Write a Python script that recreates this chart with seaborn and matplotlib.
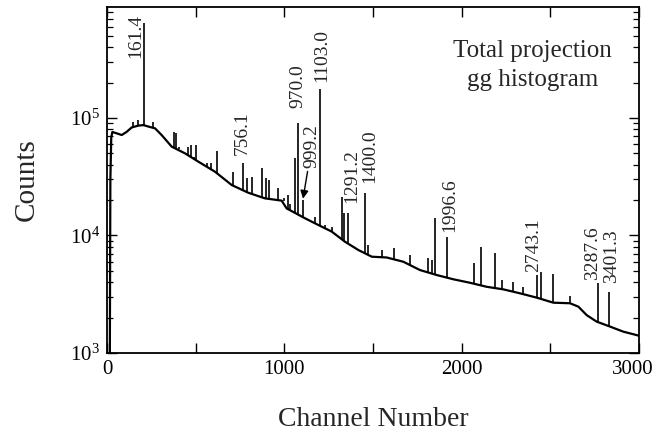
import matplotlib
matplotlib.use("Agg")
import matplotlib.pyplot as plt
import matplotlib.transforms as mtransforms
import seaborn as sns
import pandas as pd
from matplotlib.ticker import FixedLocator, LogLocator, NullFormatter, LogFormatterMathtext

# Continuum of the total projection spectrum (channel, counts)
continuum_channel = [16, 19, 24, 30, 55, 83, 110, 139, 175, 205, 240, 271, 308, 365, 440,
                     515, 609, 703, 797, 891, 985, 1013, 1117, 1191, 1267, 1342, 1417,
                     1493, 1577, 1671, 1765, 1859, 1953, 2047, 2141, 2235, 2329, 2423,
                     2517, 2611, 2658, 2705, 2761, 2836, 2911, 2987, 3000]
continuum_counts = [1000, 30000, 68000, 76000, 74000, 71600, 76000, 83000, 86000, 87000,
                    84000, 81600, 71600, 57000, 50000, 42500, 34900, 26900, 23100, 20700,
                    19800, 17000, 14000, 12300, 10800, 8850, 7530, 6600, 6500, 5980, 5080,
                    4610, 4240, 3960, 3660, 3480, 3220, 2960, 2680, 2650, 2480, 2100, 1850,
                    1680, 1520, 1420, 1400]

# Discrete lines: channel, local background under the line, line height
peak_channel = [148, 177, 210, 261, 378, 389, 406, 458, 474, 492, 502, 562, 586, 619,
                709, 765, 788, 816, 872, 895, 913, 966, 1000, 1019, 1034, 1060, 1079,
                1104, 1173, 1201, 1229, 1267, 1323, 1338, 1361, 1455, 1473, 1549, 1618,
                1709, 1812, 1831, 1850, 1916, 2069, 2107, 2188, 2226, 2288, 2347, 2426,
                2447, 2517, 2611, 2767, 2832]
peak_base = [83000, 85000, 87000, 82000, 56000, 55000, 54000, 48000, 46500, 44500, 44000,
             38500, 36500, 34000, 26700, 24500, 23500, 22500, 21000, 20700, 20500, 20000,
             19500, 16900, 16500, 15500, 15000, 14300, 12700, 12100, 11500, 10800, 9300,
             8900, 8500, 7100, 6850, 6500, 6300, 5600, 4850, 4750, 4650, 4400, 3900, 3800,
             3570, 3500, 3330, 3170, 2950, 2900, 2680, 2650, 1830, 1690]
peak_top = [93000, 96000, 640000, 93000, 76000, 74000, 57000, 57000, 59000, 46900, 59000,
            41000, 41000, 52700, 34900, 41700, 30700, 31700, 37300, 30700, 29600, 25200,
            20700, 22100, 18500, 45400, 91200, 20000, 14500, 175000, 12300, 11900, 21400,
            15500, 15500, 23000, 8300, 7500, 7800, 6800, 6400, 6200, 14000, 9770, 5800,
            8000, 7100, 4200, 4050, 3670, 4600, 4900, 4700, 3050, 3920, 3330]

# Energies (keV) written next to selected lines
label_energy = ["161.4", "756.1", "970.0", "999.2", "1103.0", "1291.2", "1400.0",
                "1996.6", "2743.1", "3287.6", "3401.3"]
label_channel = [210, 765, 1079, 1104, 1201, 1361, 1455, 1916, 2426, 2767, 2832]

# Text placement relative to the line top, in pixels (dx, dy to the text bottom)
label_offset = [(-9, -35), (0, 8), (0, 15), (9, 32), (2, 7), (3, 10), (5, 10),
                (3, 5), (-4, 3), (-5, 3), (2, 9)]

sns.set_style("ticks")
plt.rcParams["font.family"] = ["Liberation Serif", "DejaVu Serif"]
plt.rcParams["mathtext.fontset"] = "custom"
plt.rcParams["mathtext.rm"] = "Liberation Serif"
plt.rcParams["mathtext.it"] = "Liberation Serif:italic"
plt.rcParams["mathtext.bf"] = "Liberation Serif:bold"

fig = plt.figure(figsize=(6.58, 4.33), dpi=100)
ax = fig.add_axes([107 / 658, 1 - 353 / 433, 532 / 658, 346 / 433])

spec = pd.DataFrame({"channel": continuum_channel, "counts": continuum_counts})
sns.lineplot(data=spec, x="channel", y="counts", color="black", linewidth=1.6,
             ax=ax, estimator=None, sort=True)
ax.vlines(peak_channel, peak_base, peak_top, color="black", linewidth=1.2)

ax.set_yscale("log")
ax.set_xlim(0, 3000)
ax.set_ylim(1e3, 8.8e5)

ax.xaxis.set_major_locator(FixedLocator([0, 500, 1000, 1500, 2000, 2500, 3000]))
ax.set_xticklabels(["0", "", "1000", "", "2000", "", "3000"])
ax.yaxis.set_major_locator(LogLocator(base=10, numticks=10))
ax.yaxis.set_major_formatter(LogFormatterMathtext())
ax.yaxis.set_minor_locator(LogLocator(base=10, subs=range(2, 10), numticks=20))
ax.yaxis.set_minor_formatter(NullFormatter())

ax.tick_params(which="both", direction="in", top=True, right=True, colors="black",
               labelsize=15)
ax.tick_params(which="major", length=7, width=1.0, pad=5)
ax.tick_params(which="minor", length=4, width=0.9)
for s in ax.spines.values():
    s.set_linewidth(1.3)
    s.set_color("black")

# keep the last channel label inside the figure edge
last = ax.get_xticklabels()[-1]
last.set_transform(last.get_transform() +
                   mtransforms.ScaledTranslation(-6 / 100, 0, fig.dpi_scale_trans))

ax.set_xlabel("Channel Number", fontsize=20, labelpad=20)
ax.set_ylabel("Counts", fontsize=21, labelpad=22)

top_of = dict(zip(peak_channel, peak_top))
for text, ch, (dx, dy) in zip(label_energy, label_channel, label_offset):
    y = top_of[ch]
    arrow = None
    if text == "999.2":
        arrow = dict(arrowstyle="-|>", color="black", lw=1.0, mutation_scale=12,
                     shrinkA=0, shrinkB=1)
    ax.annotate(text, xy=(ch, y), xytext=(dx * 0.72, dy * 0.72),
                textcoords="offset points", rotation=90, ha="center", va="bottom",
                fontsize=14, arrowprops=arrow)

ax.text(0.80, 0.905, "Total projection\ngg histogram", transform=ax.transAxes,
        ha="center", va="top", fontsize=18, linespacing=1.4, multialignment="center")

fig.savefig("out.png", dpi=100)
